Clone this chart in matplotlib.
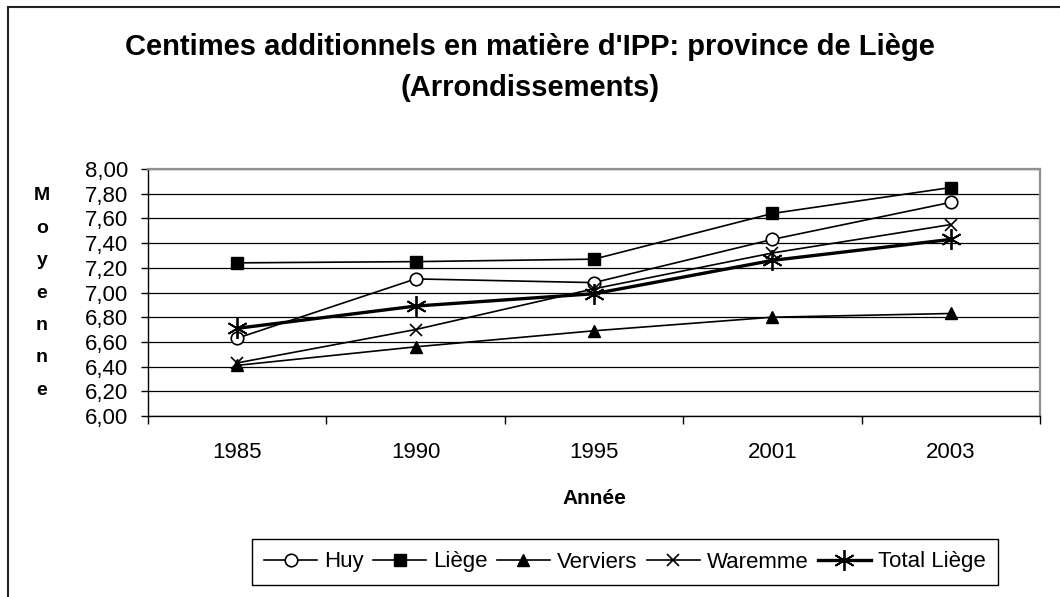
import numpy as np
import matplotlib.pyplot as plt
from matplotlib.patches import Rectangle

plt.rcParams['font.family'] = ['Liberation Sans', 'DejaVu Sans']

years = ['1985', '1990', '1995', '2001', '2003']
huy = [6.63, 7.11, 7.08, 7.43, 7.73]
liege = [7.24, 7.25, 7.27, 7.64, 7.85]
verviers = [6.41, 6.56, 6.69, 6.80, 6.83]
waremme = [6.43, 6.70, 7.03, 7.32, 7.55]
total = [6.71, 6.89, 6.99, 7.26, 7.43]
yticks = np.arange(6.0, 8.001, 0.2)

W, H = 1060, 597
fig = plt.figure(figsize=(W / 100, H / 100), dpi=100)
ax = fig.add_axes([148 / W, 1 - 416 / H, (1040 - 148) / W, (416 - 169) / H])

x = np.arange(len(years))
ax.plot(x, huy, color='black', lw=1.2, marker='o', ms=9, mfc='white', mec='black', mew=1.2, label='Huy', zorder=3)
ax.plot(x, liege, color='black', lw=1.2, marker='s', ms=9, label='Liège', zorder=3)
ax.plot(x, verviers, color='black', lw=1.2, marker='^', ms=9, label='Verviers', zorder=3)
ax.plot(x, waremme, color='black', lw=1.2, marker='x', ms=9, mew=1.2, label='Waremme', zorder=3)
ax.plot(x, total, color='black', lw=2.4, marker=(6, 2, 0), ms=15, mew=1.3, label='Total Liège', zorder=4)

ax.set_xlim(-0.5, len(years) - 0.5)
ax.set_ylim(6.0, 8.0)
ax.set_yticks(yticks)
ax.set_yticklabels([f'{v:.2f}'.replace('.', ',') for v in yticks])
ax.set_xticks(x)
ax.set_xticklabels(years)
ax.set_xticks(np.arange(-0.5, len(years)), minor=True)

ax.grid(axis='y', color='black', lw=0.9)
ax.set_axisbelow(True)
ax.tick_params(axis='y', direction='out', length=5, width=1, pad=9, labelsize=16)
ax.tick_params(axis='x', which='major', length=0, pad=19, labelsize=16)
ax.tick_params(axis='x', which='minor', direction='out', length=6, width=1)

for side in ['left', 'bottom']:
    ax.spines[side].set_color('black')
    ax.spines[side].set_linewidth(1.0)
for side in ['top', 'right']:
    ax.spines[side].set_color('#909090')
    ax.spines[side].set_linewidth(1.6)

fig.text(0.5, 1 - 47 / H, "Centimes additionnels en matière d'IPP: province de Liège",
         ha='center', va='center', fontsize=21, fontweight='bold')
fig.text(0.5, 1 - 88 / H, '(Arrondissements)',
         ha='center', va='center', fontsize=21, fontweight='bold')
fig.text(594 / W, 1 - 498 / H, 'Année', ha='center', va='center', fontsize=15, fontweight='bold')
fig.text(42 / W, 1 - 293 / H, '\n'.join('Moyenne'), ha='center', va='center',
         fontsize=14, fontweight='bold', linespacing=2.19)

leg = fig.legend(loc='center right', bbox_to_anchor=(998 / W, 1 - 562 / H), ncol=5,
                 frameon=True, fancybox=False, edgecolor='black', framealpha=1,
                 fontsize=16, handlelength=2.4, columnspacing=0.4, handletextpad=0.32,
                 borderpad=0.55, borderaxespad=0)
leg.get_frame().set_linewidth(1.0)

fig.add_artist(Rectangle((8 / W, -0.1), 1.0, 1 - 7 / H + 0.1, transform=fig.transFigure,
                         fill=False, edgecolor='#222222', lw=1.5))

fig.savefig('out.png', dpi=100)
